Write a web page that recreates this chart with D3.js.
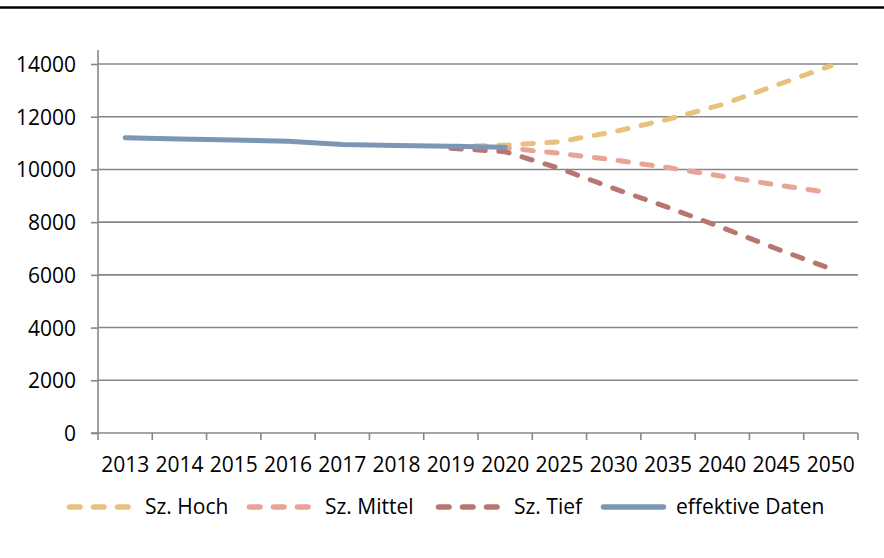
<!DOCTYPE html>
<html>
<head>
<meta charset="utf-8">
<script src="https://cdn.jsdelivr.net/npm/d3@7"></script>
<style>
  body { margin: 0; background: #fff; }
  text { font-family: "Open Sans", sans-serif; fill: #000; }
</style>
</head>
<body>
<div id="chart"></div>
<script>

// categories on the x axis
var years = ["2013", "2014", "2015", "2016", "2017", "2018", "2019", "2020",
             "2025", "2030", "2035", "2040", "2045", "2050"];

// measured data 2013 - 2020
var effYears = ["2013", "2014", "2015", "2016", "2017", "2018", "2019", "2020"];
var effValues = [11200, 11150, 11120, 11070, 10950, 10910, 10880, 10840];

// scenarios 2019 - 2050
var scenYears = ["2019", "2020", "2025", "2030", "2035", "2040", "2045", "2050"];
var hochValues = [10870, 10920, 11050, 11430, 11900, 12460, 13200, 13930];
var mittelValues = [10860, 10820, 10610, 10360, 10070, 9740, 9410, 9110];
var tiefValues = [10800, 10670, 10040, 9280, 8560, 7790, 6990, 6230];

var yTicks = [0, 2000, 4000, 6000, 8000, 10000, 12000, 14000];

var seriesNames = ["Sz. Hoch", "Sz. Mittel", "Sz. Tief", "effektive Daten"];
var seriesColors = ["#e8c27c", "#e8a494", "#b87671", "#7c96b6"];

var width = 884, height = 558;
var plot = {left: 98, right: 858, top: 64, bottom: 433};

var svg = d3.select("#chart")
  .append("svg")
    .attr("width", width)
    .attr("height", height);

// black rule on top
svg.append("line")
  .attr("x1", 0).attr("x2", width)
  .attr("y1", 7.5).attr("y2", 7.5)
  .attr("stroke", "#000")
  .attr("stroke-width", 2.5);

var x = d3.scaleBand()
  .domain(years)
  .range([plot.left, plot.right]);

var y = d3.scaleLinear()
  .domain([0, 14000])
  .range([plot.bottom, plot.top]);

var gridColor = "#878787";

// horizontal gridlines
svg.append("g")
  .selectAll("line")
  .data(yTicks.filter(function (d) { return d > 0; }))
  .enter().append("line")
    .attr("x1", plot.left).attr("x2", plot.right)
    .attr("y1", function (d) { return y(d); })
    .attr("y2", function (d) { return y(d); })
    .attr("stroke", gridColor)
    .attr("stroke-width", 1.6);

// y axis
var yAxis = d3.axisLeft(y)
  .tickValues(yTicks)
  .tickFormat(d3.format("d"))
  .tickSize(7)
  .tickPadding(15);
var gy = svg.append("g")
  .attr("transform", "translate(" + plot.left + ",0)")
  .call(yAxis);
gy.select(".domain").remove();
gy.append("line")
  .attr("y1", plot.top - 14).attr("y2", plot.bottom)
  .attr("stroke", gridColor).attr("stroke-width", 1.6);
gy.selectAll(".tick line").attr("stroke", gridColor).attr("stroke-width", 1.6);
gy.selectAll(".tick text")
  .style("font-size", "21px")
  .attr("dy", "0.36em");

// x axis, ticks sit between the categories
var gx = svg.append("g")
  .attr("transform", "translate(0," + plot.bottom + ")");
gx.append("line")
  .attr("x1", plot.left - 7).attr("x2", plot.right)
  .attr("stroke", gridColor).attr("stroke-width", 1.6);
gx.selectAll(".xtick")
  .data(years.concat(["end"]))
  .enter().append("line")
    .attr("class", "xtick")
    .attr("x1", function (d, i) { return plot.left + i * x.step(); })
    .attr("x2", function (d, i) { return plot.left + i * x.step(); })
    .attr("y1", 0).attr("y2", 7)
    .attr("stroke", gridColor).attr("stroke-width", 1.6);
gx.selectAll(".xlabel")
  .data(years)
  .enter().append("text")
    .attr("class", "xlabel")
    .attr("x", function (d) { return x(d) + x.bandwidth() / 2; })
    .attr("y", 38.5)
    .attr("text-anchor", "middle")
    .style("font-size", "21px")
    .text(function (d) { return d; });

// lines
var line = d3.line()
  .x(function (d) { return x(d[0]) + x.bandwidth() / 2; })
  .y(function (d) { return y(d[1]); });

var series = [
  {years: scenYears, values: hochValues, dashed: true},
  {years: scenYears, values: mittelValues, dashed: true},
  {years: scenYears, values: tiefValues, dashed: true},
  {years: effYears, values: effValues, dashed: false}
];

series.forEach(function (s, i) {
  var pts = s.years.map(function (yr, j) { return [yr, s.values[j]]; });
  svg.append("path")
    .datum(pts)
    .attr("d", line)
    .attr("fill", "none")
    .attr("stroke", seriesColors[i])
    .attr("stroke-width", 5)
    .attr("stroke-linecap", "round")
    .attr("stroke-linejoin", "round")
    .attr("stroke-dasharray", s.dashed ? "10.5,13.5" : null);
});

// legend
var legendX = [67, 247, 436, 601];
var legend = svg.append("g");
seriesNames.forEach(function (name, i) {
  var lx = legendX[i], ly = 507;
  legend.append("line")
    .attr("x1", lx + 2.5).attr("x2", lx + 65 - 2.5)
    .attr("y1", ly).attr("y2", ly)
    .attr("stroke", seriesColors[i])
    .attr("stroke-width", 5.5)
    .attr("stroke-linecap", "round")
    .attr("stroke-dasharray", i < 3 ? "10.5,13.5" : null);
  legend.append("text")
    .attr("x", lx + 78 - (i == 3 ? 3 : 0))
    .attr("y", ly + 7)
    .style("font-size", "21px")
    .text(name);
});

</script>
</body>
</html>
